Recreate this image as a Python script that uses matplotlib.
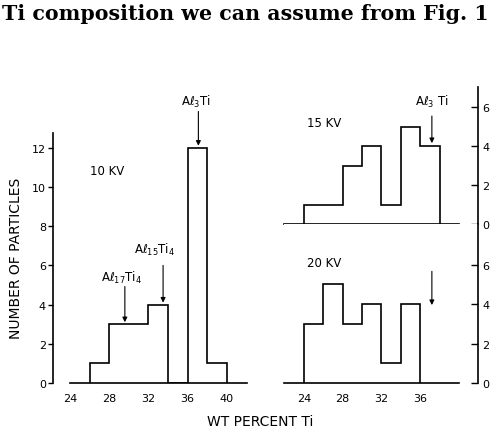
import numpy as np
import matplotlib
matplotlib.use('Agg')
import matplotlib.pyplot as plt

# histogram data (wt percent Ti bins, number of particles)
edges_10kv = [26, 28, 30, 32, 34, 36, 38, 40]
counts_10kv = [1, 3, 3, 4, 0, 12, 1]
edges_15kv = [24, 26, 28, 30, 32, 34, 36, 38]
counts_15kv = [1, 1, 3, 4, 1, 5, 4]
edges_20kv = [24, 26, 28, 30, 32, 34, 36]
counts_20kv = [3, 5, 3, 4, 1, 4]

xticks_left = [24, 28, 32, 36, 40]
xticks_right = [24, 28, 32, 36]
yticks_left = [0, 2, 4, 6, 8, 10, 12]
yticks_right = [0, 2, 4, 6]

plt.rcParams['font.family'] = ['DejaVu Sans']
plt.rcParams['mathtext.fontset'] = 'dejavusans'

W, H = 494, 431
fig = plt.figure(figsize=(W / 100, H / 100), dpi=100)

def frac(x0, y0, x1, y1):
    # pixel box -> figure fraction rect
    return [x0 / W, 1 - y1 / H, (x1 - x0) / W, (y1 - y0) / H]

lw = 1.2

"""
left panel, 10 KV
"""
ax = fig.add_axes(frac(53, 134, 247, 384))
ax.stairs(counts_10kv, edges_10kv, color='black', lw=lw, baseline=0)
ax.set_xlim(22.27, 42.06)
ax.set_ylim(0, 12.75)
for s in ['top', 'right']:
    ax.spines[s].set_visible(False)
ax.spines['left'].set_linewidth(lw)
ax.spines['bottom'].set_linewidth(lw)
ax.spines['bottom'].set_bounds(24, 42.06)
ax.set_xticks(xticks_left)
ax.set_yticks(yticks_left)
ax.tick_params(axis='y', direction='out', length=3.5, width=1, labelsize=8, pad=1.5)
ax.tick_params(axis='x', length=0, labelsize=8, pad=7)
ax.text(27.8, 10.84, '10 KV', fontsize=8.5, ha='center', va='center')

labels_left = [(37.1, 14.4, 13.85, 12.1, r'A$\ell_3$Ti'),
               (33.5, 6.86, 6.0, 4.1, r'A$\ell_{15}$Ti$_4$'),
               (29.6, 5.43, 4.92, 3.1, r'A$\ell_{17}$Ti$_4$')]
for x, ylab, ytail, ytip, lab in labels_left:
    ax.text(x - 0.3 if '17' in lab else x - 0.9 if '15' in lab else x - 0.2, ylab, lab,
            fontsize=8.5, ha='center', va='center', clip_on=False)
    ax.annotate('', xy=(x, ytip), xytext=(x, ytail), annotation_clip=False,
                arrowprops=dict(arrowstyle='-|>', color='black', lw=0.8,
                                mutation_scale=7, shrinkA=0, shrinkB=0))

"""
right panels, 15 KV (top) and 20 KV (bottom)
"""
ax_top = fig.add_axes(frac(284, 88, 478, 225))
ax_bot = fig.add_axes(frac(284, 225, 478, 384))

for a, e, c, ytop in [(ax_top, edges_15kv, counts_15kv, 7.03),
                      (ax_bot, edges_20kv, counts_20kv, 8.06)]:
    a.stairs(c, e, color='black', lw=lw, baseline=0)
    a.set_xlim(21.94, 41.96)
    a.set_ylim(0, ytop)
    for s in ['top', 'left']:
        a.spines[s].set_visible(False)
    a.spines['right'].set_linewidth(lw)
    a.spines['bottom'].set_linewidth(lw)
    a.spines['bottom'].set_bounds(21.94, 40.0)
    a.yaxis.tick_right()
    a.set_yticks(yticks_right)
    a.tick_params(axis='y', direction='in', length=5, width=1, labelsize=8, pad=3)

ax_top.set_xticks([])
ax_bot.set_xticks(xticks_right)
ax_bot.tick_params(axis='x', length=0, labelsize=8, pad=7)

ax_top.text(26.1, 5.23, '15 KV', fontsize=8.5, ha='center', va='center')
ax_bot.text(26.1, 6.1, '20 KV', fontsize=8.5, ha='center', va='center')

ax_top.text(37.2, 6.3, r'A$\ell_3$ Ti', fontsize=8.5, ha='center', va='center', clip_on=False)
ax_top.annotate('', xy=(37.2, 4.15), xytext=(37.2, 5.54), annotation_clip=False,
                arrowprops=dict(arrowstyle='-|>', color='black', lw=0.8,
                                mutation_scale=7, shrinkA=0, shrinkB=0))
ax_bot.annotate('', xy=(37.2, 3.95), xytext=(37.2, 5.66), annotation_clip=False,
                arrowprops=dict(arrowstyle='-|>', color='black', lw=0.8,
                                mutation_scale=7, shrinkA=0, shrinkB=0))

# shared axis labels
fig.text(16 / W, 1 - 258 / H, 'NUMBER OF PARTICLES', rotation=90, fontsize=10,
         ha='center', va='center')
fig.text(260 / W, 1 - 422 / H, 'WT PERCENT Ti', fontsize=10, ha='center', va='center')

# running text line from the page above the figure
fig.text(2 / W, 1 - 20 / H, 'Ti composition we can assume from Fig. 1',
         fontsize=14.8, family='DejaVu Serif', weight='bold', va='baseline', ha='left')

plt.savefig('out.png', dpi=100)
